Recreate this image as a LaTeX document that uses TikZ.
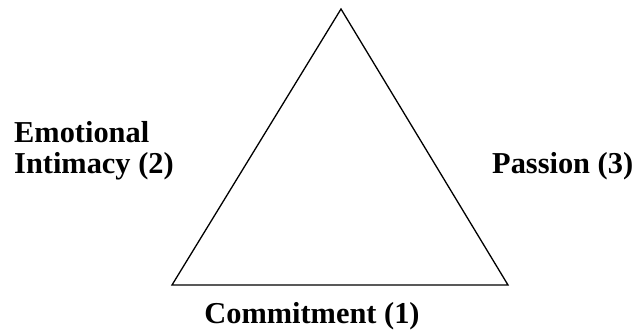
\documentclass[tikz,border=0pt]{standalone}
\usepackage{fontspec}
\setmainfont{Liberation Serif}
\begin{document}
\begin{tikzpicture}[x=1bp,y=-1bp,
  lbl/.style={inner sep=0pt,font=\bfseries\fontsize{30.5}{31}\selectfont}]
\useasboundingbox (0,0) rectangle (637,331);
\coordinate (apex) at (341,9);
\coordinate (bl) at (172,285);
\coordinate (br) at (508,285);
\draw[line width=1.3bp,line join=miter] (apex) -- (bl) -- (br) -- cycle;
\node[lbl,anchor=base west] (emo) at (14,142) {Emotional};
\node[lbl,anchor=base west] (int) at (14,173) {Intimacy (2)};
\node[lbl,anchor=base west] (pas) at (492,173) {Passion (3)};
\node[lbl,anchor=base] (com) at (312,323) {Commitment (1)};
\end{tikzpicture}
\end{document}
